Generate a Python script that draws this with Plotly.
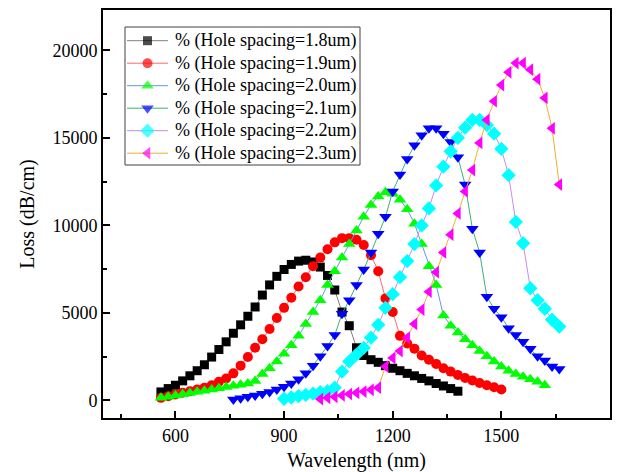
import plotly.graph_objects as go

# Loss spectra for six hole spacings (wavelength in nm, loss in dB/cm)
wl_18 = list(range(560, 1381, 20))
loss_18 = [490, 680, 870, 1120, 1410, 1700, 2040, 2480, 2910, 3350,
           3840, 4320, 4810, 5340, 6020, 6600, 7090, 7480, 7770, 7960,
           8010, 7910, 7620, 7140, 6310, 5050, 4270, 3010, 2570, 2330,
           2180, 1990, 1840, 1700, 1550, 1410, 1260, 1120, 970, 830,
           680, 530]

wl_19 = list(range(560, 1501, 20))
loss_19 = [150, 240, 340, 440, 530, 630, 730, 870, 1070, 1260,
           1550, 1990, 2480, 3010, 3500, 4080, 4710, 5290, 5870, 6510,
           7040, 7670, 8160, 8640, 9030, 9270, 9270, 9180, 8880, 8300,
           7380, 5830, 5050, 3690, 3250, 2960, 2570, 2330, 2090, 1840,
           1650, 1460, 1280, 1140, 1000, 870, 760, 630]

wl_20 = list(range(560, 1621, 20))
loss_20 = [150, 220, 290, 360, 430, 500, 560, 630, 700, 770,
           840, 900, 970, 1120, 1510, 1840, 2230, 2670, 3160, 3690,
           4370, 5050, 5730, 6600, 7380, 8160, 8930, 9710, 10490, 11170,
           11650, 11890, 11800, 11460, 10920, 10100, 8930, 7670, 6600, 4860,
           4270, 3880, 3500, 3160, 2820, 2520, 2230, 1940, 1700, 1510,
           1360, 1210, 1070, 870]

wl_21 = list(range(760, 1661, 20))
loss_21 = [50, 130, 210, 290, 390, 490, 630, 780, 970, 1210,
           1550, 1990, 2520, 3110, 3740, 4950, 5730, 6600, 7480, 8450,
           9520, 10490, 11940, 12910, 13790, 14570, 15150, 15540, 15540, 15240,
           14760, 13890, 12330, 9810, 8450, 5920, 5240, 4760, 4130, 3740,
           3350, 2960, 2520, 2280, 1940, 1800]

wl_22 = list(range(900, 1661, 20))
loss_22 = [100, 170, 250, 320, 390, 470, 540, 730, 1650, 2230,
           2620, 3010, 3590, 4320, 5290, 6070, 7040, 7960, 8930, 10000,
           10970, 12280, 13350, 14230, 15000, 15580, 16020, 16020, 15730, 15240,
           14370, 12870, 10200, 8980, 6410, 5730, 5240, 4610, 4220]

wl_23 = list(range(1000, 1661, 20))
loss_23 = [80, 150, 210, 290, 370, 440, 510, 610, 730, 1940,
           2430, 2820, 3590, 4370, 5190, 6210, 7330, 8450, 9470, 10680,
           11940, 13160, 14710, 16020, 17090, 18010, 18740, 19270, 19270, 18890,
           18350, 17280, 15540, 12330]

names = [
    "% (Hole spacing=1.8um)",
    "% (Hole spacing=1.9um)",
    "% (Hole spacing=2.0um)",
    "% (Hole spacing=2.1um)",
    "% (Hole spacing=2.2um)",
    "% (Hole spacing=2.3um)",
]

series = [
    (wl_18, loss_18, "square", 9, "#000000", "#808080"),
    (wl_19, loss_19, "circle", 10, "#FF0000", "#FF6B6B"),
    (wl_20, loss_20, "triangle-up", 11, "#00FF00", "#6495ED"),
    (wl_21, loss_21, "triangle-down", 11, "#0000FF", "#3CB371"),
    (wl_22, loss_22, "diamond", 11, "#00FFFF", "#C58BF0"),
    (wl_23, loss_23, "triangle-left", 11, "#FF00FF", "#F0B030"),
]

serif = "Liberation Serif, Times New Roman, serif"

# plot-area geometry in pixels
W, H = 627, 472
PL, PR, PT, PB = 103, 610, 10, 418


def to_paper(px, py):
    return (px - PL) / (PR - PL), (PB - py) / (PB - PT)


fig = go.Figure()
for name, (x, y, sym, size, mcol, lcol) in zip(names, series):
    fig.add_trace(go.Scatter(
        x=x, y=y, name=name, mode="lines+markers", showlegend=False,
        line=dict(color=lcol, width=1),
        marker=dict(symbol=sym, size=size, color=mcol, line=dict(width=0)),
    ))

# legend box with compact rows, drawn on an overlaid unit axis
box_x0, box_y0 = to_paper(125, 27)
box_x1, box_y1 = to_paper(360, 165)
shapes = [dict(type="rect", xref="paper", yref="paper",
               x0=box_x0, y0=box_y1, x1=box_x1, y1=box_y0,
               line=dict(color="#404040", width=1), fillcolor="white",
               layer="below")]
annotations = []
row0, row_step = 40.7, 22.5
for i, (name, (x, y, sym, size, mcol, lcol)) in enumerate(zip(names, series)):
    py = row0 + row_step * i
    xa, yr = to_paper(127, py)
    xb, _ = to_paper(168, py)
    xm = (xa + xb) / 2
    fig.add_trace(go.Scatter(
        x=[xa, xm, xb], y=[yr, yr, yr], mode="lines+markers",
        xaxis="x2", yaxis="y2", showlegend=False, hoverinfo="skip",
        line=dict(color=lcol, width=1),
        marker=dict(symbol=sym, size=[0, size, 0], color=mcol, line=dict(width=0)),
        cliponaxis=False,
    ))
    xt, _ = to_paper(173, py)
    annotations.append(dict(
        x=xt, y=yr, xref="paper", yref="paper", text=name, showarrow=False,
        xanchor="left", yanchor="middle",
        font=dict(family=serif, size=18, color="black"),
    ))

axis_common = dict(
    showline=True, linecolor="black", linewidth=2, mirror=True,
    ticks="inside", ticklen=7, tickwidth=1.5, tickcolor="black",
    showgrid=False, zeroline=False, tickformat="d", automargin=False,
    tickfont=dict(family=serif, size=18, color="black"),
)

fig.update_xaxes(
    range=[400, 1800], tick0=600, dtick=300,
    minor=dict(ticks="inside", ticklen=4, tick0=450, dtick=150, tickcolor="black"),
    title=dict(text="Wavelength (nm)", font=dict(family=serif, size=20, color="black"), standoff=12),
    **axis_common,
)
fig.update_yaxes(
    range=[-1000, 22300], tick0=0, dtick=5000,
    minor=dict(ticks="inside", ticklen=4, tick0=0, dtick=2500, tickcolor="black"),
    title=dict(text="Loss (dB/cm)", font=dict(family=serif, size=20, color="black"), standoff=12),
    **axis_common,
)

fig.update_layout(
    width=W, height=H,
    margin=dict(l=PL, r=W - PR, t=PT, b=H - PB, autoexpand=False),
    paper_bgcolor="white", plot_bgcolor="white",
    font=dict(family=serif, color="black"),
    xaxis2=dict(overlaying="x", range=[0, 1], visible=False, fixedrange=True, anchor="y2"),
    yaxis2=dict(overlaying="y", range=[0, 1], visible=False, fixedrange=True, anchor="x2"),
    shapes=shapes, annotations=annotations,
    showlegend=False,
)

fig.write_html("out.html")
